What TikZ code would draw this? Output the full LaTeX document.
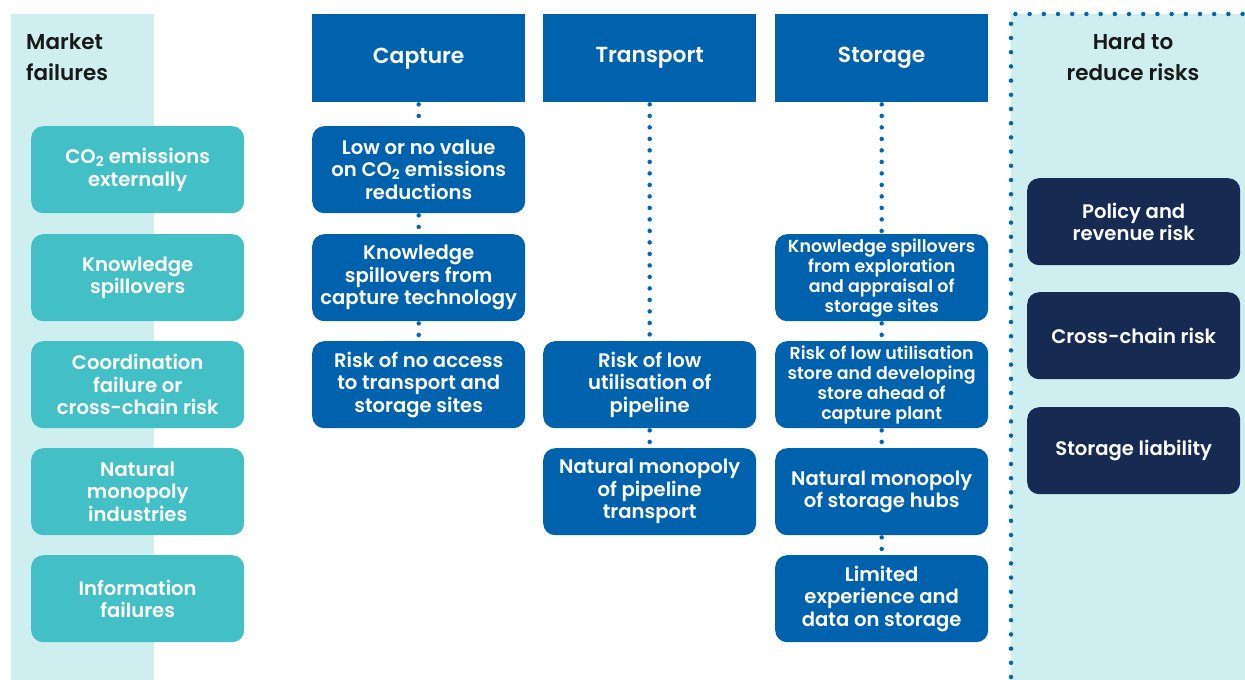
\documentclass[tikz,border=0pt]{standalone}
\usepackage{fontspec}
\setmainfont{Poppins}[BoldFont={Poppins SemiBold}]
\usetikzlibrary{positioning}
\definecolor{hdrblue}{HTML}{0062AD}
\definecolor{dotblue}{HTML}{0068B3}
\definecolor{teal}{HTML}{43C0C6}
\definecolor{pale}{HTML}{CFEEF0}
\definecolor{navy}{HTML}{172A52}
\tikzset{
  x=1pt, y=-1pt,
  base/.style={anchor=north west, minimum width=213pt, minimum height=87pt, inner sep=2pt,
     align=center, text=white, font=\fontsize{19.6}{22.5}\selectfont\bfseries},
  hdr/.style={base, fill=hdrblue, minimum height=88pt, font=\fontsize{21.8}{25}\selectfont\bfseries},
  tealbox/.style={base, fill=teal, rounded corners=12pt},
  bluebox/.style={base, fill=hdrblue, rounded corners=12pt},
  smallbox/.style={bluebox, font=\fontsize{17.4}{20}\selectfont\bfseries},
  navybox/.style={base, fill=navy, rounded corners=12pt},
  dotline/.style={draw=dotblue, line width=4.5pt, line cap=round, dash pattern=on 0pt off 11.5pt},
  borderdots/.style={draw=dotblue, line width=4.5pt, line cap=round, dash pattern=on 0pt off 14.2pt},
  paneltitle/.style={font=\fontsize{21.5}{31}\selectfont\bfseries, text=black!90}
}
\begin{document}
\begin{tikzpicture}
\useasboundingbox (0,0) rectangle (1245,680);
% panels
\fill[pale] (11,14) rectangle (154,680);
\fill[pale] (1011,14) rectangle (1245,680);
\draw[borderdots] (1011,677) -- (1011,14) -- (1245,14);
\node[paneltitle, anchor=north west, align=left, inner sep=0pt] (mf) at (26,33) {Market\\failures};
\node[paneltitle, anchor=north, align=center, inner sep=0pt] (hr) at (1133,33) {Hard to\\reduce risks};
% headers
\node[hdr] (cap) at (312,14) {Capture};
\node[hdr] (tra) at (543,14) {Transport};
\node[hdr] (sto) at (775,14) {Storage};
% market failures
\node[tealbox] (m1) at (31,126) {CO\textsubscript{2} emissions\\externally};
\node[tealbox] (m2) at (31,234) {Knowledge\\spillovers};
\node[tealbox] (m3) at (31,341) {Coordination\\failure or\\cross-chain risk};
\node[tealbox] (m4) at (31,448) {Natural\\monopoly\\industries};
\node[tealbox] (m5) at (31,555) {Information\\failures};
% capture
\node[bluebox] (c1) at (312,126) {Low or no value\\on CO\textsubscript{2} emissions\\reductions};
\node[bluebox] (c2) at (312,234) {Knowledge\\spillovers from\\capture technology};
\node[bluebox] (c3) at (312,341) {Risk of no access\\to transport and\\storage sites};
% transport
\node[bluebox] (t1) at (543,341) {Risk of low\\utilisation of\\pipeline};
\node[bluebox] (t2) at (543,448) {Natural monopoly\\of pipeline\\transport};
% storage
\node[smallbox] (s1) at (775,234) {Knowledge spillovers\\from exploration\\and appraisal of\\storage sites};
\node[smallbox] (s2) at (775,341) {Risk of low utilisation\\store and developing\\store ahead of\\capture plant};
\node[bluebox] (s3) at (775,448) {Natural monopoly\\of storage hubs};
\node[bluebox] (s4) at (775,555) {Limited\\experience and\\data on storage};
% hard to reduce
\node[navybox] (h1) at (1027,178) {Policy and\\revenue risk};
\node[navybox] (h2) at (1027,292) {Cross-chain risk};
\node[navybox] (h3) at (1027,407) {Storage liability};
% connectors
\draw[dotline] ([yshift=-2pt]cap.south) -- ([yshift=3pt]c1.north);
\draw[dotline] ([yshift=-2pt]c1.south) -- ([yshift=3pt]c2.north);
\draw[dotline] ([yshift=-2pt]c2.south) -- ([yshift=3pt]c3.north);
\draw[dotline] ([yshift=-2pt]tra.south) -- ([yshift=3pt]t1.north);
\draw[dotline] ([yshift=-2pt]t1.south) -- ([yshift=3pt]t2.north);
\draw[dotline] ([yshift=-2pt]sto.south) -- ([yshift=3pt]s1.north);
\draw[dotline] ([yshift=-2pt]s1.south) -- ([yshift=3pt]s2.north);
\draw[dotline] ([yshift=-2pt]s2.south) -- ([yshift=3pt]s3.north);
\draw[dotline] ([yshift=-2pt]s3.south) -- ([yshift=3pt]s4.north);
\end{tikzpicture}
\end{document}
